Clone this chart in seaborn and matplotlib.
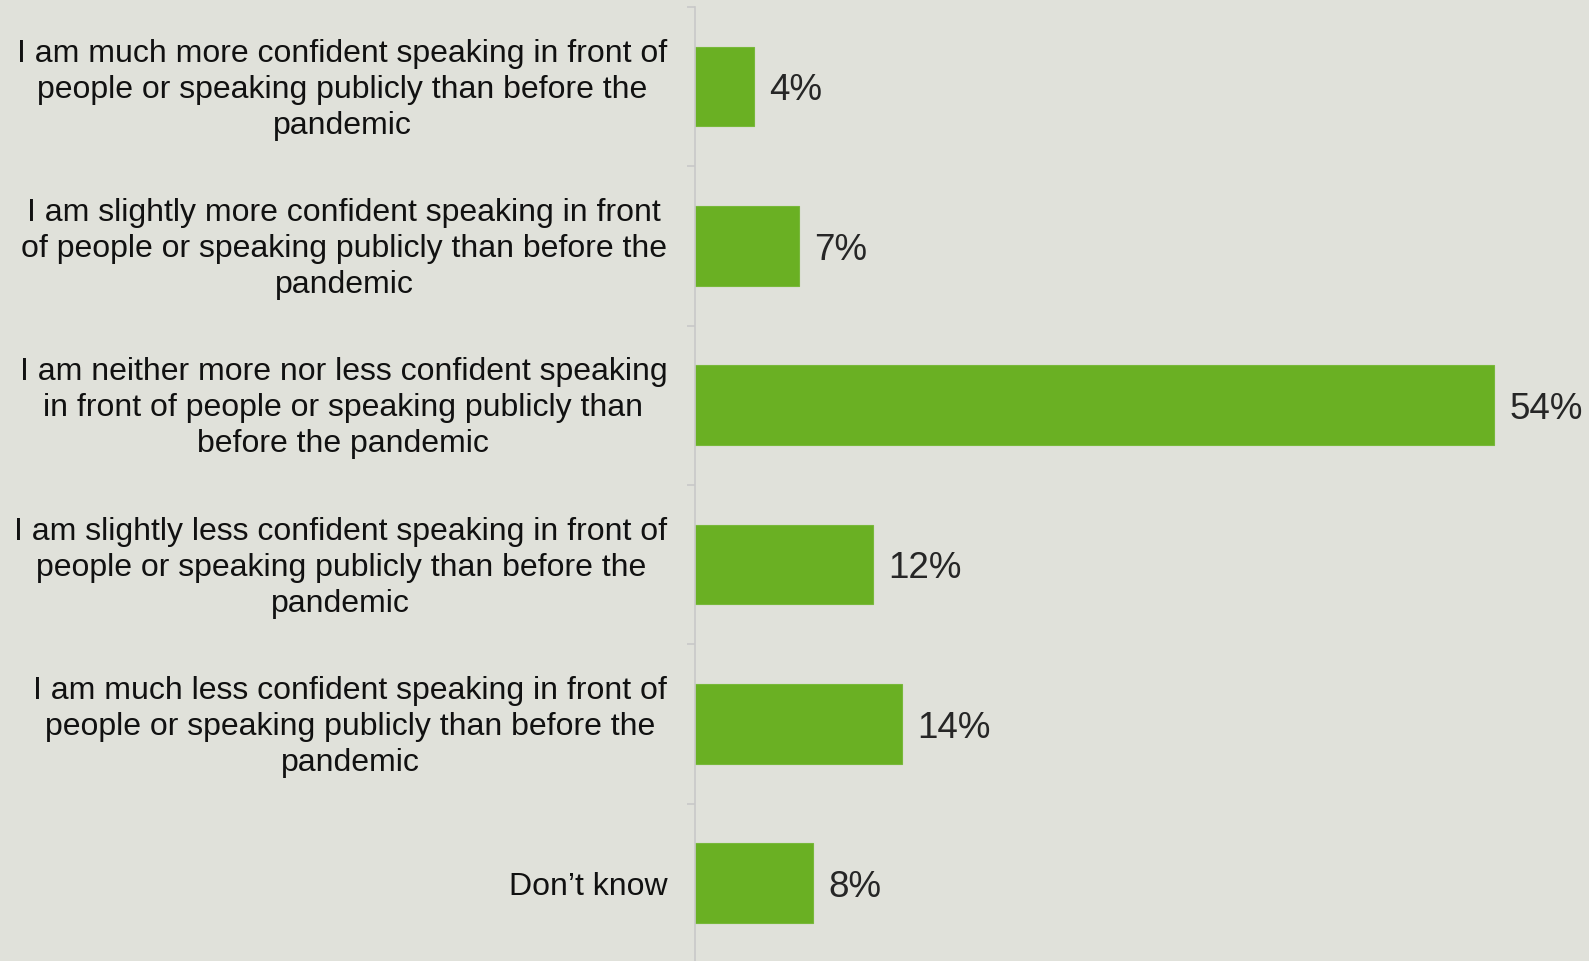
import matplotlib
matplotlib.use("Agg")
import matplotlib.pyplot as plt
import matplotlib.transforms as mtransforms
import seaborn as sns
import pandas as pd
import numpy as np

categories = [
    "I am much more confident speaking in front of\npeople or speaking publicly than before the\npandemic",
    "I am slightly more confident speaking in front\nof people or speaking publicly than before the\npandemic",
    "I am neither more nor less confident speaking\nin front of people or speaking publicly than\nbefore the pandemic",
    "I am slightly less confident speaking in front of\npeople or speaking publicly than before the\npandemic",
    "I am much less confident speaking in front of\npeople or speaking publicly than before the\npandemic",
    "Don\u2019t know",
]
values = [4, 7, 54, 12, 14, 8]
value_labels = ["4%", "7%", "54%", "12%", "14%", "8%"]

BG = "#e0e1da"
BAR = "#6ab023"
AXIS = "#c8c8c8"

sns.set_theme(style="white")
plt.rcParams["font.family"] = ["Liberation Sans", "DejaVu Sans"]

df = pd.DataFrame({"category": categories, "value": values})

fig = plt.figure(figsize=(15.89, 9.61), dpi=100, facecolor=BG)
ax = fig.add_axes([695 / 1589, -0.002, (1589 - 695) / 1589, 1 - 7 / 961 + 0.002])
ax.set_facecolor(BG)

sns.barplot(data=df, x="value", y="category", color=BAR, width=0.5,
            saturation=1, ax=ax, orient="h", edgecolor="#78b83a", linewidth=0.8)

ax.set_xlim(0, 60.4)
ax.set_ylim(len(categories) - 0.5, -0.5)
ax.set_xlabel("")
ax.set_ylabel("")
ax.set_xticks([])

for spine in ["top", "right", "bottom"]:
    ax.spines[spine].set_visible(False)
ax.spines["left"].set_color(AXIS)
ax.spines["left"].set_linewidth(1.2)

ax.tick_params(axis="y", which="major", length=0, pad=20, labelsize=23,
               labelcolor="#111111")
shift = mtransforms.ScaledTranslation(0, 3.5 / 100, fig.dpi_scale_trans)
for lbl in ax.get_yticklabels():
    lbl.set_multialignment("center")
    lbl.set_linespacing(1.26)
    if "\n" in lbl.get_text():
        lbl.set_transform(lbl.get_transform() + shift)

ax.set_yticks(np.arange(-0.5, len(categories), 1.0), minor=True)
ax.tick_params(axis="y", which="minor", length=6, width=1.2, color=AXIS,
               left=True)

for cont in ax.containers:
    anns = ax.bar_label(cont, labels=value_labels, padding=11, fontsize=26.5,
                        color="#262626")
    for a in anns:
        a.xyann = (11, -3)

fig.savefig("out.png", dpi=100, facecolor=BG)
